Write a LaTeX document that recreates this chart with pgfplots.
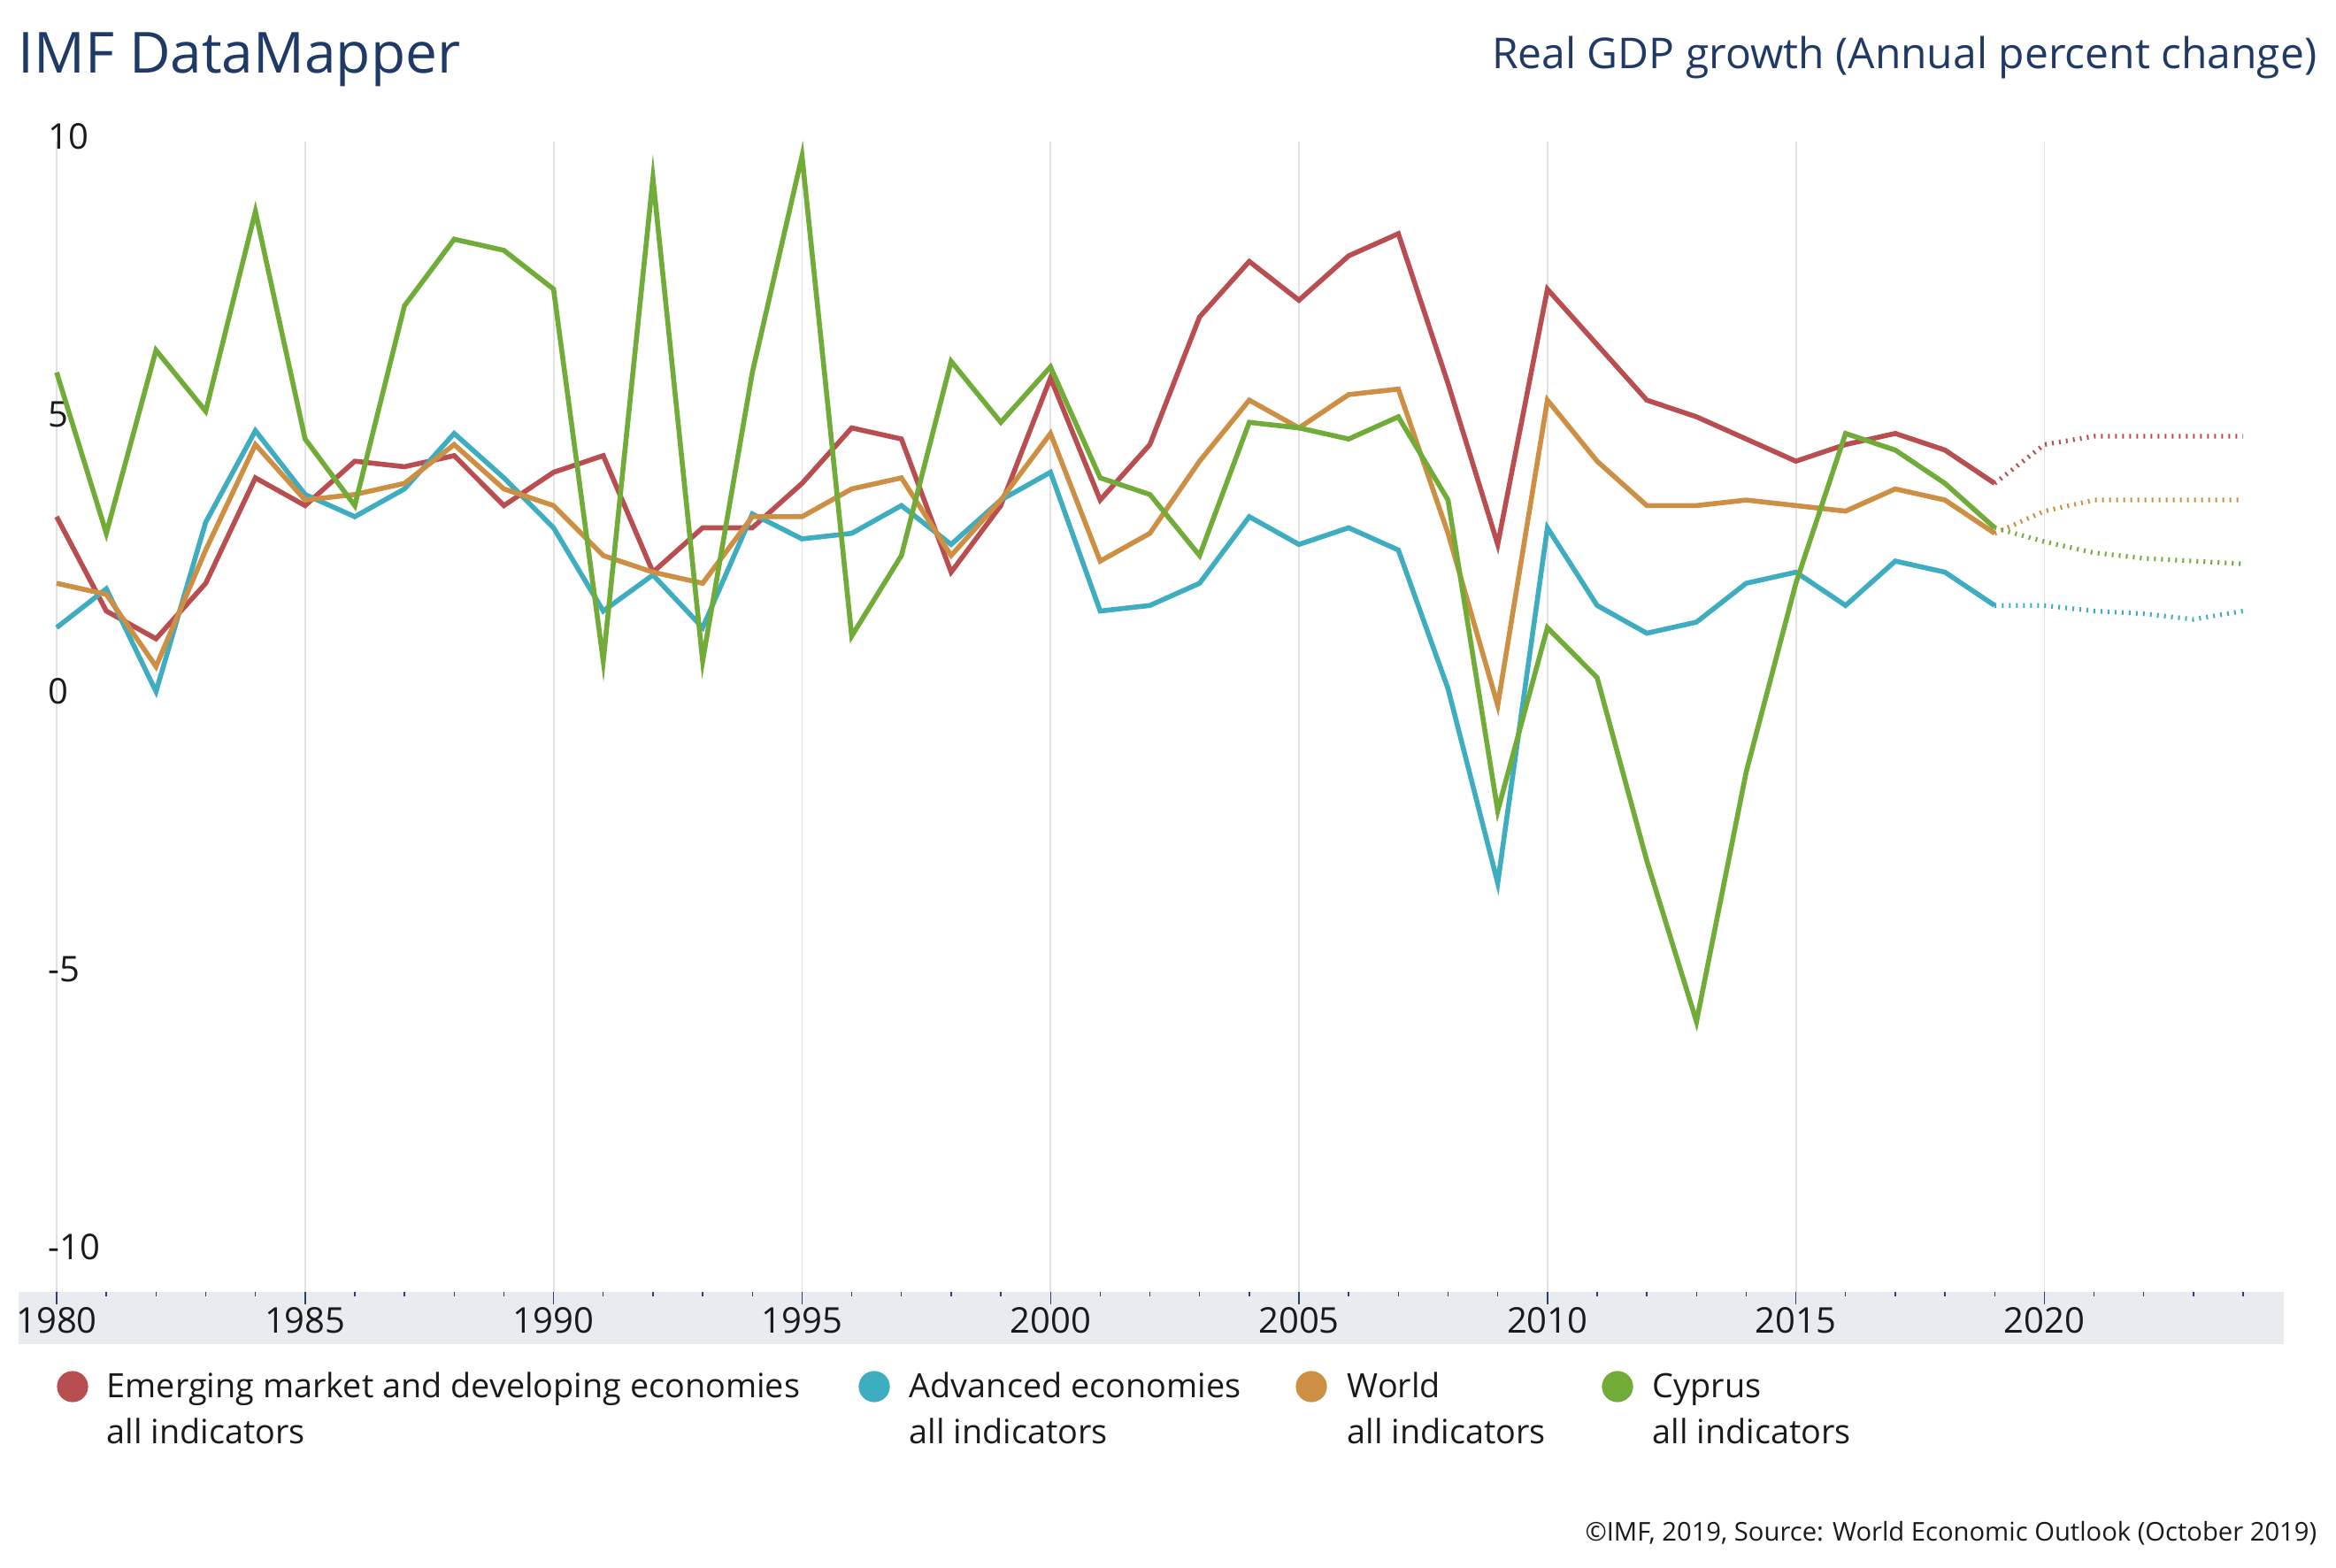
\documentclass[border=0pt]{standalone}
\usepackage{fontspec}
\setmainfont{Open Sans}
\usepackage{pgfplots}
\pgfplotsset{compat=1.18}
\definecolor{cred}{HTML}{B84E4F}
\definecolor{cteal}{HTML}{3FADC0}
\definecolor{corange}{HTML}{CC8F43}
\definecolor{cgreen}{HTML}{71AB38}
\definecolor{cnavy}{HTML}{1F3A67}
\definecolor{cband}{HTML}{E9ECEE}
\definecolor{cgrid}{HTML}{E2E2E2}
\definecolor{ctick}{HTML}{2B3F6B}
\definecolor{ctext}{HTML}{1A1A1A}
\begin{document}
\begin{tikzpicture}
\useasboundingbox (-16pt,-78pt) rectangle (644pt,365pt);
\fill[cband] (-10.75pt,0pt) rectangle (629.12pt,-14.75pt);
\begin{axis}[
  scale only axis, width=617.75pt, height=325pt,
  xmin=1980, xmax=2024, ymin=-10.67, ymax=10.06,
  clip=false,
  axis line style={draw=none},
  xtick={1980,1985,...,2020},
  ytick={-10,-5,0,5,10},
  major tick length=0pt,
  tick style={draw=none},
  xmajorgrids,
  grid style={color=cgrid, line width=0.45pt},
  /pgf/number format/assume math mode=true,
  /pgf/number format/1000 sep={},
  x tick label style={anchor=base, inner sep=0pt, yshift=-11.75pt, font=\fontsize{10}{12}\selectfont, text=ctext},
  y tick label style={anchor=west, inner sep=0pt, xshift=-2.5pt, yshift=2.3pt, font=\fontsize{10}{12}\selectfont, text=ctext},
]
\pgfplotsinvokeforeach{1980,1981,...,2024}{
  \draw[ctick, line width=0.35pt] (axis cs:#1,-10.67) -- ++(0pt,-1.3pt);
}
\pgfplotsinvokeforeach{1980,1985,...,2020}{
  \draw[ctick, line width=0.35pt] (axis cs:#1,-10.67) -- ++(0pt,-3.5pt);
}
% Emerging market and developing economies
\addplot[cred, line width=1.4pt] coordinates {
(1980,3.3) (1981,1.6) (1982,1.1) (1983,2.1) (1984,4.0) (1985,3.5) (1986,4.3) (1987,4.2) (1988,4.4) (1989,3.5)
(1990,4.1) (1991,4.4) (1992,2.3) (1993,3.1) (1994,3.1) (1995,3.9) (1996,4.9) (1997,4.7) (1998,2.3) (1999,3.5)
(2000,5.8) (2001,3.6) (2002,4.6) (2003,6.9) (2004,7.9) (2005,7.2) (2006,8.0) (2007,8.4) (2008,5.7) (2009,2.8)
(2010,7.4) (2011,6.4) (2012,5.4) (2013,5.1) (2014,4.7) (2015,4.3) (2016,4.6) (2017,4.8) (2018,4.5) (2019,3.9)};
\addplot[cred, line width=1.3pt, dash pattern=on 0.5pt off 1.5pt] coordinates {
(2019,3.9) (2020,4.6) (2021,4.75) (2022,4.75) (2023,4.75) (2024,4.75)};
% Advanced economies
\addplot[cteal, line width=1.4pt] coordinates {
(1980,1.3) (1981,2.0) (1982,0.15) (1983,3.2) (1984,4.85) (1985,3.7) (1986,3.3) (1987,3.8) (1988,4.8) (1989,4.0)
(1990,3.1) (1991,1.6) (1992,2.25) (1993,1.3) (1994,3.35) (1995,2.9) (1996,3.0) (1997,3.5) (1998,2.8) (1999,3.6)
(2000,4.1) (2001,1.6) (2002,1.7) (2003,2.1) (2004,3.3) (2005,2.8) (2006,3.1) (2007,2.7) (2008,0.2) (2009,-3.3)
(2010,3.1) (2011,1.7) (2012,1.2) (2013,1.4) (2014,2.1) (2015,2.3) (2016,1.7) (2017,2.5) (2018,2.3) (2019,1.7)};
\addplot[cteal, line width=1.3pt, dash pattern=on 0.5pt off 1.5pt] coordinates {
(2019,1.7) (2020,1.7) (2021,1.6) (2022,1.55) (2023,1.45) (2024,1.6)};
% World
\addplot[corange, line width=1.4pt] coordinates {
(1980,2.1) (1981,1.9) (1982,0.6) (1983,2.7) (1984,4.6) (1985,3.6) (1986,3.7) (1987,3.9) (1988,4.6) (1989,3.8)
(1990,3.5) (1991,2.6) (1992,2.3) (1993,2.1) (1994,3.3) (1995,3.3) (1996,3.8) (1997,4.0) (1998,2.6) (1999,3.6)
(2000,4.8) (2001,2.5) (2002,3.0) (2003,4.3) (2004,5.4) (2005,4.9) (2006,5.5) (2007,5.6) (2008,3.0) (2009,-0.1)
(2010,5.4) (2011,4.3) (2012,3.5) (2013,3.5) (2014,3.6) (2015,3.5) (2016,3.4) (2017,3.8) (2018,3.6) (2019,3.0)};
\addplot[corange, line width=1.3pt, dash pattern=on 0.5pt off 1.5pt] coordinates {
(2019,3.0) (2020,3.4) (2021,3.6) (2022,3.6) (2023,3.6) (2024,3.6)};
% Cyprus
\addplot[cgreen, line width=1.4pt] coordinates {
(1980,5.9) (1981,3.0) (1982,6.3) (1983,5.2) (1984,8.8) (1985,4.7) (1986,3.5) (1987,7.1) (1988,8.3) (1989,8.1)
(1990,7.4) (1991,0.7) (1992,9.4) (1993,0.7) (1994,5.9) (1995,9.8) (1996,1.15) (1997,2.6) (1998,6.1) (1999,5.0)
(2000,6.0) (2001,4.0) (2002,3.7) (2003,2.6) (2004,5.0) (2005,4.9) (2006,4.7) (2007,5.1) (2008,3.6) (2009,-2.0)
(2010,1.3) (2011,0.4) (2012,-2.9) (2013,-5.8) (2014,-1.3) (2015,2.1) (2016,4.8) (2017,4.5) (2018,3.9) (2019,3.1)};
\addplot[cgreen, line width=1.3pt, dash pattern=on 0.5pt off 1.5pt] coordinates {
(2019,3.1) (2020,2.85) (2021,2.65) (2022,2.55) (2023,2.5) (2024,2.45)};
\end{axis}
% titles
\node[anchor=base west, inner sep=0pt, text=cnavy, font=\fontsize{16}{19}\selectfont] at (-11pt,344.25pt) {IMF DataMapper};
\node[anchor=base east, inner sep=0pt, text=cnavy, font=\fontsize{12}{14}\selectfont] at (638.75pt,345.5pt) {Real GDP growth (Annual percent change)};
% legend
\fill[cred] (4.5pt,-26.75pt) circle (4.4pt);
\fill[cteal] (231pt,-26.75pt) circle (4.4pt);
\fill[corange] (354.5pt,-26.75pt) circle (4.4pt);
\fill[cgreen] (441pt,-26.75pt) circle (4.4pt);
\begin{scope}[every node/.style={anchor=base west, inner sep=0pt, text=ctext, font=\fontsize{9.45}{13}\selectfont}]
\node at (14pt,-30pt) {Emerging market and developing economies};
\node at (14pt,-43pt) {all indicators};
\node at (240.75pt,-30pt) {Advanced economies};
\node at (240.75pt,-43pt) {all indicators};
\node at (364.5pt,-30pt) {World};
\node at (364.5pt,-43pt) {all indicators};
\node at (450.75pt,-30pt) {Cyprus};
\node at (450.75pt,-43pt) {all indicators};
\end{scope}
\node[anchor=base east, inner sep=0pt, text=ctext, font=\fontsize{7.3}{9}\selectfont] at (638.75pt,-70.5pt) {©IMF, 2019, Source: World Economic Outlook (October 2019)};
\end{tikzpicture}
\end{document}
